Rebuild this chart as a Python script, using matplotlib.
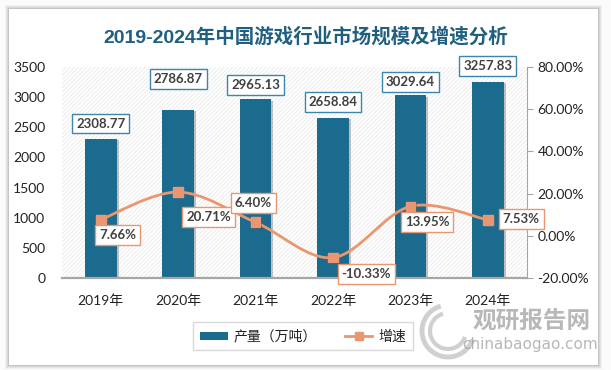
import matplotlib
matplotlib.use('Agg')
import matplotlib.pyplot as plt
import matplotlib.patheffects as pe
from matplotlib.patches import Rectangle, Patch, PathPatch, Arc
from matplotlib.lines import Line2D
from matplotlib.path import Path
from matplotlib.ticker import FuncFormatter
import numpy as np

plt.rcParams['font.family'] = ['Lato', 'Noto Sans CJK SC', 'DejaVu Sans']
plt.rcParams['hatch.linewidth'] = 0.5

# chart data
years = ['2019年', '2020年', '2021年', '2022年', '2023年', '2024年']
output = [2308.77, 2786.87, 2965.13, 2658.84, 3029.64, 3257.83]
growth = [7.66, 20.71, 6.40, -10.33, 13.95, 7.53]

# label offsets (points) for the callout boxes
bar_lbl_dy = [11, 22, 10, 11.5, 9.5, 11.5]
line_lbl_off = [(12, -11), (22, -18), (-1.5, 14), (24, -11.5), (12, -11.5), (24, 0.5)]

bar_color = '#1b6b8e'
line_color = '#ea9670'
txt_color = '#404040'

fig = plt.figure(figsize=(6.11, 3.70), dpi=100)
fig.patch.set_facecolor('#fbfbfb')

# card with soft shadow
for i, a in enumerate([0.04, 0.05, 0.06, 0.08]):
    g = 4 - i
    fig.patches.append(Rectangle(((9 - g) / 611, 1 - (365 + g) / 370), (589 + 2 * g) / 611, (356 + 2 * g) / 370,
                                 transform=fig.transFigure, facecolor='black', alpha=a, edgecolor='none', zorder=-3))
fig.patches.append(Rectangle((9 / 611, 1 - 365 / 370), 589 / 611, 356 / 370, transform=fig.transFigure,
                             facecolor='white', edgecolor='none', zorder=-2))

ax = fig.add_axes([62 / 611, 1 - 278 / 370, 464.5 / 611, 211 / 370])
ax.set_facecolor('white')
ax.add_patch(Rectangle((0, 0), 1, 1, transform=ax.transAxes, facecolor='white', edgecolor='#e6e6e6',
                       hatch='////////', linewidth=0, zorder=0))

x = np.arange(len(years))
bars = ax.bar(x, output, width=0.41, color=bar_color, zorder=2,
              path_effects=[pe.SimplePatchShadow(offset=(1.5, -1), alpha=0.35, shadow_rgbFace='#555555'), pe.Normal()])
ax.set_xlim(-0.5, len(years) - 0.5)
ax.set_ylim(0, 3500)
ax.set_yticks(range(0, 3501, 500))
ax.set_xticks(x)
ax.set_xticklabels(years, fontsize=10, color='#222222')
ax.tick_params(axis='y', length=0, labelsize=10, labelcolor='#222222', pad=12)
ax.tick_params(axis='x', length=0, pad=12)
for s in ['top', 'right', 'left']:
    ax.spines[s].set_visible(False)
ax.spines['bottom'].set_color('#a6a6a6')
ax.spines['bottom'].set_linewidth(1.6)

for xi, v, dy in zip(x, output, bar_lbl_dy):
    ax.annotate(f'{v:.2f}', (xi, v), xytext=(0, dy), textcoords='offset points', ha='center', va='center',
                fontsize=9.5, fontweight='bold', color=txt_color, zorder=6,
                bbox=dict(boxstyle='square,pad=0.3', facecolor='white', edgecolor='#3d86ab', linewidth=1))

ax2 = ax.twinx()
ax2.set_ylim(-20, 80)
ax2.set_yticks(range(-20, 81, 20))
ax2.yaxis.set_major_formatter(FuncFormatter(lambda v, p: f'{v:.2f}%'))
ax2.tick_params(axis='y', length=4, color='#a6a6a6', labelsize=10, labelcolor='#222222', pad=4)
for s in ['top', 'left', 'bottom']:
    ax2.spines[s].set_visible(False)
ax2.spines['right'].set_color('#a6a6a6')

# smooth growth line drawn as cubic Bezier segments through the data points
pts = np.column_stack([x, growth]).astype(float)
verts = [tuple(pts[0])]
codes = [Path.MOVETO]
n = len(pts)
for i in range(n - 1):
    p0 = pts[max(i - 1, 0)]
    p1 = pts[i]
    p2 = pts[i + 1]
    p3 = pts[min(i + 2, n - 1)]
    c1 = p1 + (p2 - p0) / 6
    c2 = p2 - (p3 - p1) / 6
    verts += [tuple(c1), tuple(c2), tuple(p2)]
    codes += [Path.CURVE4] * 3
ax2.add_patch(PathPatch(Path(verts, codes), facecolor='none', edgecolor=line_color, linewidth=2, zorder=3))
ax2.plot(x, growth, linestyle='none', marker='s', markersize=7, color=line_color, zorder=4,
         path_effects=[pe.SimplePatchShadow(offset=(1, -1), alpha=0.3), pe.Normal()])

for xi, v, off in zip(x, growth, line_lbl_off):
    ax2.annotate(f'{v:.2f}%', (xi, v), xytext=off, textcoords='offset points', ha='center', va='center',
                 fontsize=9.5, fontweight='bold', color=txt_color, zorder=6,
                 bbox=dict(boxstyle='square,pad=0.3', facecolor='white', edgecolor=line_color, linewidth=1))

fig.text(0.5, 1 - 37 / 370, '2019-2024年中国游戏行业市场规模及增速分析', ha='center', va='center',
         fontsize=14, fontweight='bold', color='#1f5f80',
         family=['Liberation Sans', 'Noto Sans CJK SC'])

handles = [Patch(facecolor=bar_color, edgecolor='none'),
           Line2D([0], [0], color=line_color, linewidth=2, marker='s', markersize=6)]
leg = fig.legend(handles, ['产量（万吨）', '增速'], loc='center', bbox_to_anchor=(303 / 611, 1 - 336 / 370),
                 ncol=2, fontsize=10, frameon=True, fancybox=False, edgecolor='#cfcfcf',
                 handlelength=2.0, handleheight=0.5, handletextpad=0.4, columnspacing=2.0, borderpad=0.5,
                 borderaxespad=0)
leg.get_frame().set_linewidth(1)
for t in leg.get_texts():
    t.set_color('#222222')

# watermark
for r, lw in [(26, 3.5), (18, 3)]:
    fig.patches.append(Arc((448 / 611, 1 - 331 / 370), 2 * r / 611, 2 * r / 370, theta1=100, theta2=330,
                           transform=fig.transFigure, color='#bdbdbd', linewidth=lw, alpha=0.7))
fig.text(532 / 611, 1 - 321 / 370, '观研报告网', ha='center', va='center', fontsize=17, fontweight='bold',
         color='#9a9a9a', alpha=0.7, family=['Noto Sans CJK SC'])
fig.text(530 / 611, 1 - 345 / 370, 'chinabaogao.com', ha='center', va='center', fontsize=11,
         color='#9a9a9a', alpha=0.7, family=['DejaVu Sans'])

fig.savefig('out.png', dpi=100, facecolor=fig.get_facecolor())
